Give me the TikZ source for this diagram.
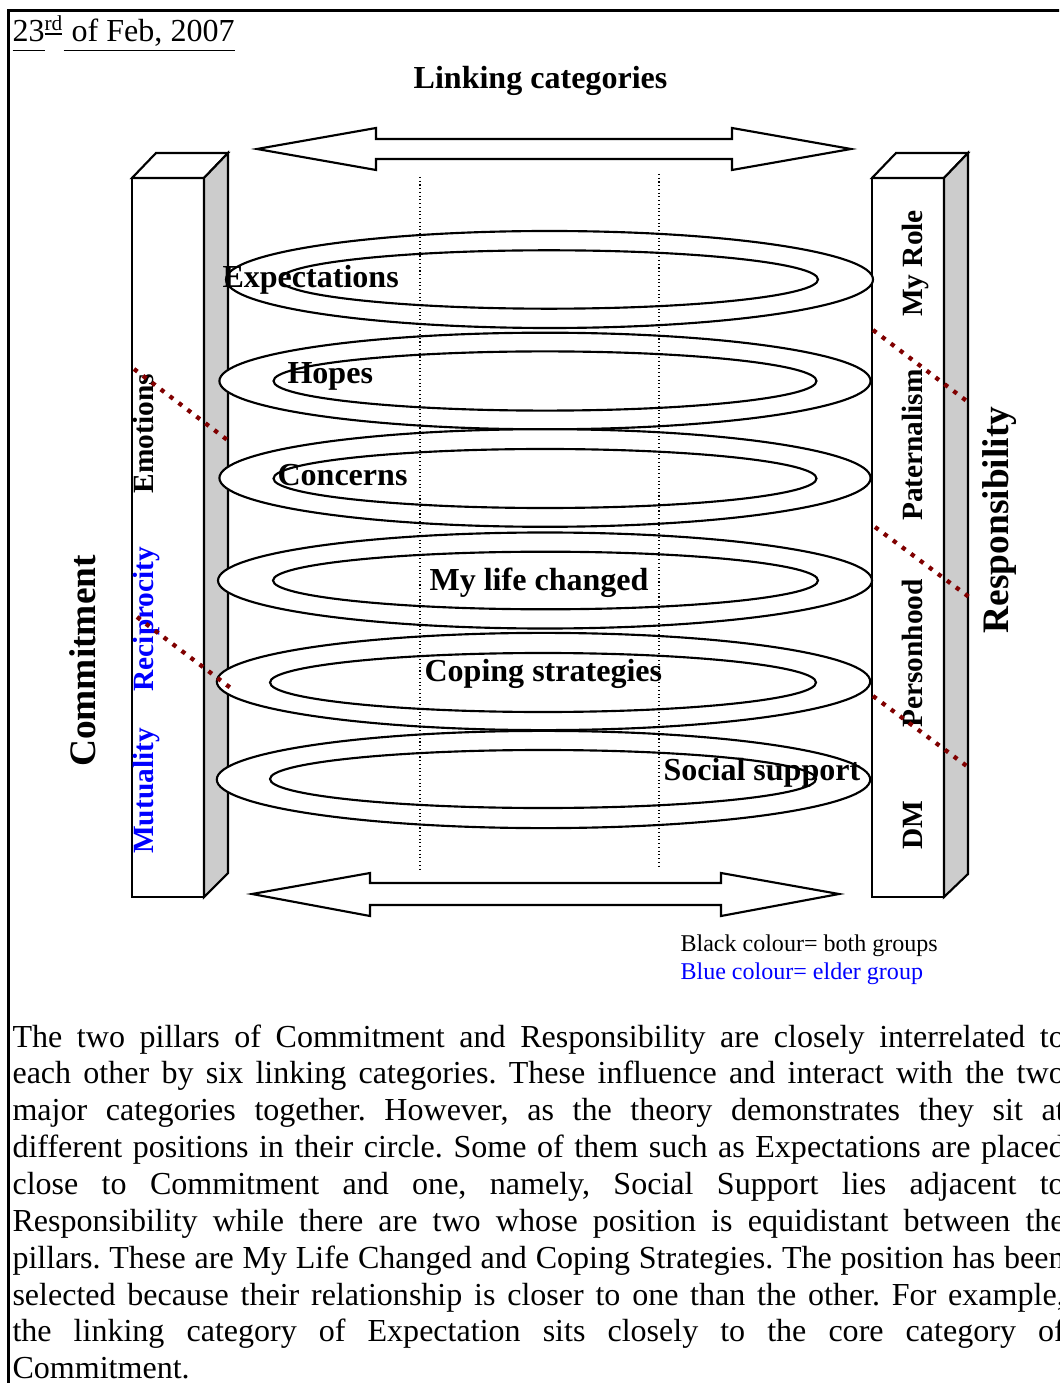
\documentclass[tikz,border=0pt]{standalone}
\usepackage{fontspec}
\setmainfont{Liberation Serif}
\usepackage{xcolor}
\usepackage{tikz}
\usetikzlibrary{shapes.geometric, arrows.meta, positioning}
\frenchspacing
\definecolor{darkred}{RGB}{128,0,0}
\definecolor{sidegray}{RGB}{204,204,204}
\definecolor{elderblue}{RGB}{0,0,255}
\tikzset{
    face/.style={draw, line width=0.8pt, fill=white, line join=miter},
    side/.style={draw, line width=0.8pt, fill=sidegray, line join=miter},
    ring/.style={draw, line width=0.8pt, fill=white},
    guide/.style={densely dotted, line width=0.4pt},
    split/.style={draw=darkred, line width=1.6pt, dash pattern=on 1.6pt off 2.6pt},
    linkarrow/.style={draw, line width=0.8pt, fill=white, line join=miter},
    ringlabel/.style={font=\fontsize{12}{14}\selectfont\bfseries, inner sep=0pt, anchor=base west},
    pillarlabel/.style={font=\fontsize{11}{13}\selectfont\bfseries, rotate=90, inner sep=0pt, anchor=base},
    corelabel/.style={font=\fontsize{14}{16}\selectfont\bfseries, rotate=90, inner sep=0pt, anchor=base},
    legend/.style={font=\fontsize{9}{10.5}\selectfont, inner sep=0pt, anchor=base west},
    story/.style={font=\fontsize{12}{13.8}\selectfont, inner sep=0pt, anchor=north west, text width=394pt, align=justify}
}

\begin{document}
\begin{tikzpicture}[x=0.3745pt, y=-0.3745pt]
    \useasboundingbox (0,0) rectangle (1059,1383);
    \clip (0,0) rectangle (1059,1383);

    % Frame
    \draw[line width=0.9pt] (1075,10.5) -- (8.7,10.5) -- (8.7,1400);

    % Date and title
    \node[anchor=base west, inner sep=0pt, font=\fontsize{12}{14}\selectfont] (date) at (12,41.7)
        {\underline{23\vphantom{,}}\textsuperscript{\underline{rd}}\underline{\ of Feb, 2007}};
    \node[anchor=base, inner sep=0pt, font=\fontsize{12}{14}\selectfont\bfseries] (title) at (540.5,89) {Linking categories};

    % Double arrows
    \draw[linkarrow] (257,149) -- (376,128) -- (376,139) -- (732,139) -- (732,128) -- (851,149)
        -- (732,170) -- (732,159) -- (376,159) -- (376,170) -- cycle;
    \draw[linkarrow] (252,894) -- (370,873) -- (370,883) -- (721,883) -- (721,873) -- (839,894)
        -- (721,916) -- (721,905) -- (370,905) -- (370,916) -- cycle;

    % Left pillar
    \draw[face] (132,178) rectangle (204,897);
    \draw[face] (132,178) -- (156,153) -- (228,153) -- (204,178) -- cycle;
    \draw[side] (204,178) -- (228,153) -- (228,873) -- (204,897) -- cycle;

    % Right pillar
    \draw[face] (872,178) rectangle (944,897);
    \draw[face] (872,178) -- (896,153) -- (968,153) -- (944,178) -- cycle;
    \draw[side] (944,178) -- (968,153) -- (968,874) -- (944,897) -- cycle;

    % Rings
    \draw[ring] (549.5,279.5) ellipse [x radius=323.5, y radius=48.5];
    \draw[ring] (549,279.5) ellipse [x radius=269, y radius=29.2];
    \draw[ring] (545,381) ellipse [x radius=325.6, y radius=48.3];
    \draw[ring] (545,381) ellipse [x radius=271.5, y radius=29.6];
    \draw[ring] (545,478) ellipse [x radius=325.6, y radius=48.8];
    \draw[ring] (545,478.5) ellipse [x radius=271.5, y radius=29.5];
    \draw[ring] (545,580.5) ellipse [x radius=327, y radius=48];
    \draw[ring] (545.5,580.5) ellipse [x radius=272.5, y radius=28.8];
    \draw[ring] (543.5,681.5) ellipse [x radius=326.7, y radius=48.6];
    \draw[ring] (543,682.5) ellipse [x radius=273, y radius=29.5];
    \draw[ring] (543.5,779.5) ellipse [x radius=326.7, y radius=48.6];
    \draw[ring] (543,779) ellipse [x radius=273, y radius=29];

    % Dotted guides
    \draw[guide] (420,177) -- (420,870);
    \draw[guide] (659,174) -- (659,866);

    % Linking categories
    \node[ringlabel] (expect) at (222,288) {Expectations};
    \node[ringlabel] (hopes) at (287,384) {Hopes};
    \node[ringlabel] (concern) at (277,485) {Concerns};
    \node[ringlabel] (life) at (429,590) {My life changed};
    \node[ringlabel] (coping) at (424,681.5) {Coping strategies};
    \node[ringlabel] (social) at (663,780.5) {Social support};

    % Pillar labels
    \node[corelabel] (commit) at (95,661) {Commitment};
    \node[corelabel] (respons) at (1008,520) {Responsibility};
    \node[pillarlabel] (emotion) at (153.5,433.5) {Emotions};
    \node[pillarlabel, text=elderblue] (recip) at (153.5,619) {Reciprocity};
    \node[pillarlabel, text=elderblue] (mutual) at (153.5,791) {Mutuality};
    \node[pillarlabel] (role) at (922,263.5) {My Role};
    \node[pillarlabel] (patern) at (922,445) {Paternalism};
    \node[pillarlabel] (person) at (922,653.5) {Personhood};
    \node[pillarlabel] (dm) at (922,825.5) {DM};

    % Dividers
    \draw[split] (134,369) -- (230,442);
    \draw[split] (137,617) -- (232,689);
    \draw[split] (873,330) -- (968,402);
    \draw[split] (875,527) -- (969,597);
    \draw[split] (873,696) -- (968,767);

    % Legend
    \node[legend] (black) at (680,951) {Black colour= both groups};
    \node[legend, text=elderblue] (blue) at (680,979) {Blue colour= elder group};

    % Text below
    \node[story] (text) at (12,1024) {\noindent The two pillars of Commitment and Responsibility are closely interrelated to\linebreak
each other by six linking categories. These influence and interact with the two\linebreak
major categories together. However, as the theory demonstrates they sit at\linebreak
different positions in their circle. Some of them such as Expectations are placed\linebreak
close to Commitment and one, namely, Social Support lies adjacent to\linebreak
Responsibility while there are two whose position is equidistant between the\linebreak
pillars. These are My Life Changed and Coping Strategies. The position has been\linebreak
selected because their relationship is closer to one than the other. For example,\linebreak
the linking category of Expectation sits closely to the core category of\linebreak
Commitment.};
\end{tikzpicture}
\end{document}
